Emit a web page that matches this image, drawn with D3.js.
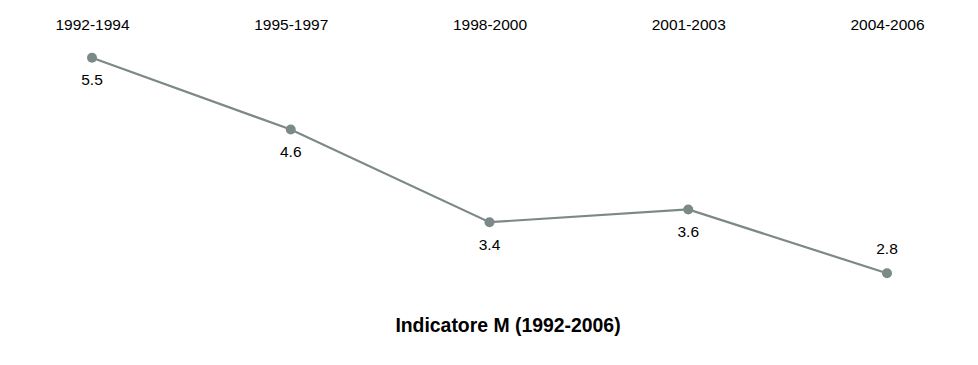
<!DOCTYPE html>
<html><head><meta charset="utf-8">
<script src="https://cdn.jsdelivr.net/npm/d3@7"></script>
<style>body{margin:0;background:#fff}svg{display:block}</style>
</head><body>
<script>
const categories = ["1992-1994","1995-1997","1998-2000","2001-2003","2004-2006"];
const values = [5.5, 4.6, 3.44, 3.6, 2.8];
const labels = ["5.5","4.6","3.4","3.6","2.8"];
const title = "Indicatore M (1992-2006)";

const W = 978, H = 365;
const svg = d3.select("body").append("svg").attr("width", W).attr("height", H);
const color = "#7b8a88";
const font = "Liberation Sans, Arial, sans-serif";

const x = d3.scalePoint().domain(categories).range([92, 887]);
const y = d3.scaleLinear().domain([2.8, 5.5]).range([273.3, 57.7]);

const axis = d3.axisTop(x).tickSize(0).tickPadding(0);
const gx = svg.append("g").attr("transform", "translate(0,30)").call(axis);
gx.select(".domain").remove();
gx.selectAll("text").attr("font-family", font).attr("font-size", 15.5).attr("fill", "#000");

const line = d3.line().x((d, i) => x(categories[i])).y(d => y(d));
svg.append("path").datum(values).attr("d", line)
  .attr("fill", "none").attr("stroke", color).attr("stroke-width", 2.2);

svg.selectAll("circle.pt").data(values).enter().append("circle")
  .attr("cx", (d, i) => x(categories[i])).attr("cy", d => y(d)).attr("r", 5).attr("fill", color);

svg.selectAll("text.lbl").data(values).enter().append("text")
  .attr("x", (d, i) => x(categories[i]))
  .attr("y", (d, i) => y(d) + (i === values.length - 1 ? -19 : 27.5))
  .attr("text-anchor", "middle")
  .attr("font-family", font).attr("font-size", 15.5).attr("fill", "#000")
  .text((d, i) => labels[i]);

svg.append("text").attr("x", 508).attr("y", 331.5).attr("text-anchor", "middle")
  .attr("font-family", font).attr("font-size", 19.4).attr("font-weight", "bold").attr("fill", "#000")
  .text(title);
</script>
</body></html>
